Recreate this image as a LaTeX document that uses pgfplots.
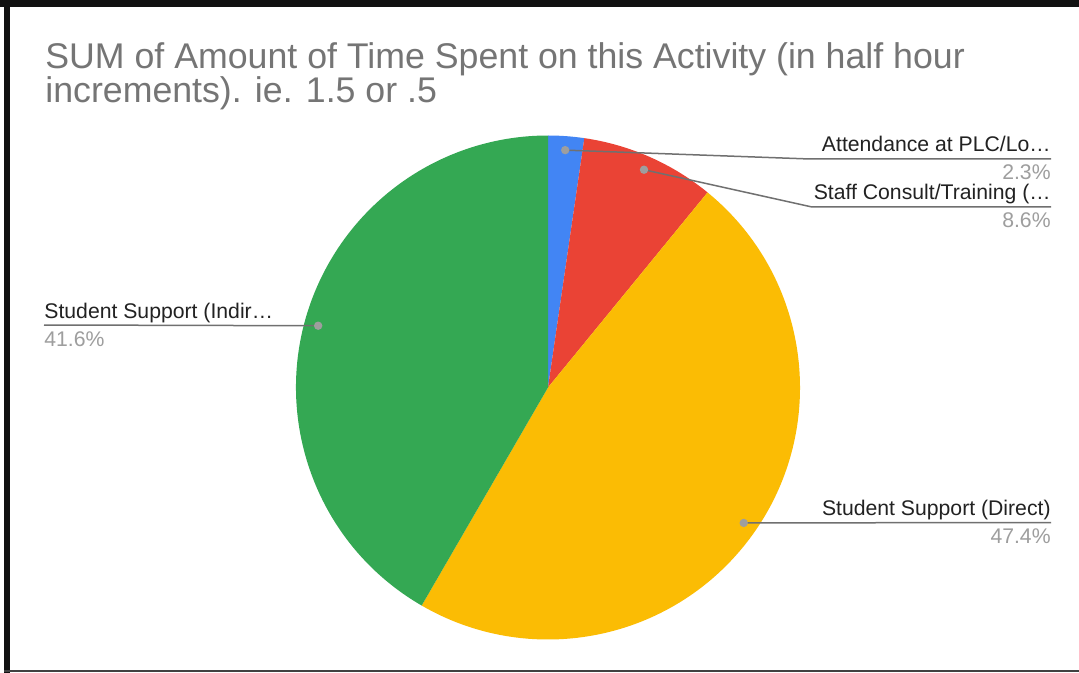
\documentclass[border=0pt]{standalone}
\usepackage{pgfplots}
\pgfplotsset{compat=1.18}
\usepackage{pgfplotstable}
\usepackage{fontspec}
\setmainfont{Liberation Sans}
\definecolor{cBlue}{HTML}{4285F4}
\definecolor{cRed}{HTML}{EA4335}
\definecolor{cYellow}{HTML}{FBBC04}
\definecolor{cGreen}{HTML}{34A853}
\definecolor{titlegray}{HTML}{757575}
\definecolor{labelblack}{HTML}{222222}
\definecolor{pctgray}{HTML}{9E9E9E}
\definecolor{leadgray}{HTML}{707070}
\definecolor{dotgray}{HTML}{9E9E9E}
\definecolor{frame}{HTML}{111111}

\pgfplotstableread{
label value
Attendance 2.3
Staff 8.6
Direct 47.4
Indirect 41.6
}\piedata

\begin{document}
\begin{tikzpicture}
\pgfplotstablegetelem{0}{value}\of\piedata\edef\vA{\pgfplotsretval}
\pgfplotstablegetelem{1}{value}\of\piedata\edef\vB{\pgfplotsretval}
\pgfplotstablegetelem{2}{value}\of\piedata\edef\vC{\pgfplotsretval}
\pgfplotstablegetelem{3}{value}\of\piedata\edef\vD{\pgfplotsretval}
\pgfmathsetmacro\k{360/(\vA+\vB+\vC+\vD)}
\pgfmathsetmacro\aA{90}
\pgfmathsetmacro\aB{\aA-\k*\vA}
\pgfmathsetmacro\aC{\aB-\k*\vB}
\pgfmathsetmacro\aD{\aC-\k*\vC}
\pgfmathsetmacro\aE{\aD-\k*\vD}
\pgfmathsetmacro\mA{(\aA+\aB)/2}
\pgfmathsetmacro\mB{(\aB+\aC)/2}
\pgfmathsetmacro\mC{(\aC+\aD)/2}
\pgfmathsetmacro\mD{(\aD+\aE)/2}
\begin{axis}[
  scale only axis, width=539.5pt, height=336.5pt,
  xmin=0, xmax=1079, ymin=0, ymax=673, y dir=reverse,
  hide axis, clip=false,
]
% background and frame
\fill[white] (axis cs:0,0) rectangle (axis cs:1079,673);
\fill[frame] (axis cs:0,0) rectangle (axis cs:1079,7);
\fill[frame] (axis cs:4,0) rectangle (axis cs:10,673);
\fill[frame!80] (axis cs:4,669.5) rectangle (axis cs:1079,672);
% pie slices
\fill[cBlue] (axis cs:548,387.5) -- ++(\aA:126pt) arc[start angle=\aA, end angle=\aB, radius=126pt] -- cycle;
\fill[cRed] (axis cs:548,387.5) -- ++(\aB:126pt) arc[start angle=\aB, end angle=\aC, radius=126pt] -- cycle;
\fill[cYellow] (axis cs:548,387.5) -- ++(\aC:126pt) arc[start angle=\aC, end angle=\aD, radius=126pt] -- cycle;
\fill[cGreen] (axis cs:548,387.5) -- ++(\aD:126pt) arc[start angle=\aD, end angle=\aE, radius=126pt] -- cycle;
% leader lines
\draw[leadgray, line width=0.75pt] (axis cs:548,387.5) ++(\mA:119pt) -- (axis cs:810,159) -- (axis cs:1051,159);
\draw[leadgray, line width=0.75pt] (axis cs:548,387.5) ++(\mB:119pt) -- (axis cs:812,207) -- (axis cs:1051,207);
\draw[leadgray, line width=0.75pt] (axis cs:548,387.5) ++(\mC:119pt) -- (axis cs:1051,522.5);
\draw[leadgray, line width=0.75pt] (axis cs:548,387.5) ++(\mD:119pt) -- (axis cs:44,325);
% dots
\fill[dotgray] (axis cs:548,387.5) ++(\mA:119pt) circle[radius=2.1pt];
\fill[dotgray] (axis cs:548,387.5) ++(\mB:119pt) circle[radius=2.1pt];
\fill[dotgray] (axis cs:548,387.5) ++(\mC:119pt) circle[radius=2.1pt];
\fill[dotgray] (axis cs:548,387.5) ++(\mD:119pt) circle[radius=2.1pt];
% title
\node[anchor=base west, inner sep=0, text=titlegray, font=\fontsize{17.85}{18}\selectfont] at (axis cs:45,69) {SUM of Amount of Time Spent on this Activity (in half hour};
\node[anchor=base west, inner sep=0, text=titlegray, font=\fontsize{17.85}{18}\selectfont] at (axis cs:45,103) {increments). ie. 1.5 or .5};
% labels
\node[anchor=base east, inner sep=0, text=labelblack, font=\fontsize{10.6}{11}\selectfont] at (axis cs:1051,152) {Attendance at PLC/Lo…};
\node[anchor=base east, inner sep=0, text=pctgray, font=\fontsize{10.6}{11}\selectfont] at (axis cs:1051,180) {2.3\%};
\node[anchor=base east, inner sep=0, text=labelblack, font=\fontsize{10.6}{11}\selectfont] at (axis cs:1051,200) {Staff Consult/Training (…};
\node[anchor=base east, inner sep=0, text=pctgray, font=\fontsize{10.6}{11}\selectfont] at (axis cs:1051,228) {8.6\%};
\node[anchor=base east, inner sep=0, text=labelblack, font=\fontsize{10.6}{11}\selectfont] at (axis cs:1051,515.5) {Student Support (Direct)};
\node[anchor=base east, inner sep=0, text=pctgray, font=\fontsize{10.6}{11}\selectfont] at (axis cs:1051,543.5) {47.4\%};
\node[anchor=base west, inner sep=0, text=labelblack, font=\fontsize{10.6}{11}\selectfont] at (axis cs:44,318) {Student Support (Indir…};
\node[anchor=base west, inner sep=0, text=pctgray, font=\fontsize{10.6}{11}\selectfont] at (axis cs:44,346) {41.6\%};
\end{axis}
\end{tikzpicture}
\end{document}
